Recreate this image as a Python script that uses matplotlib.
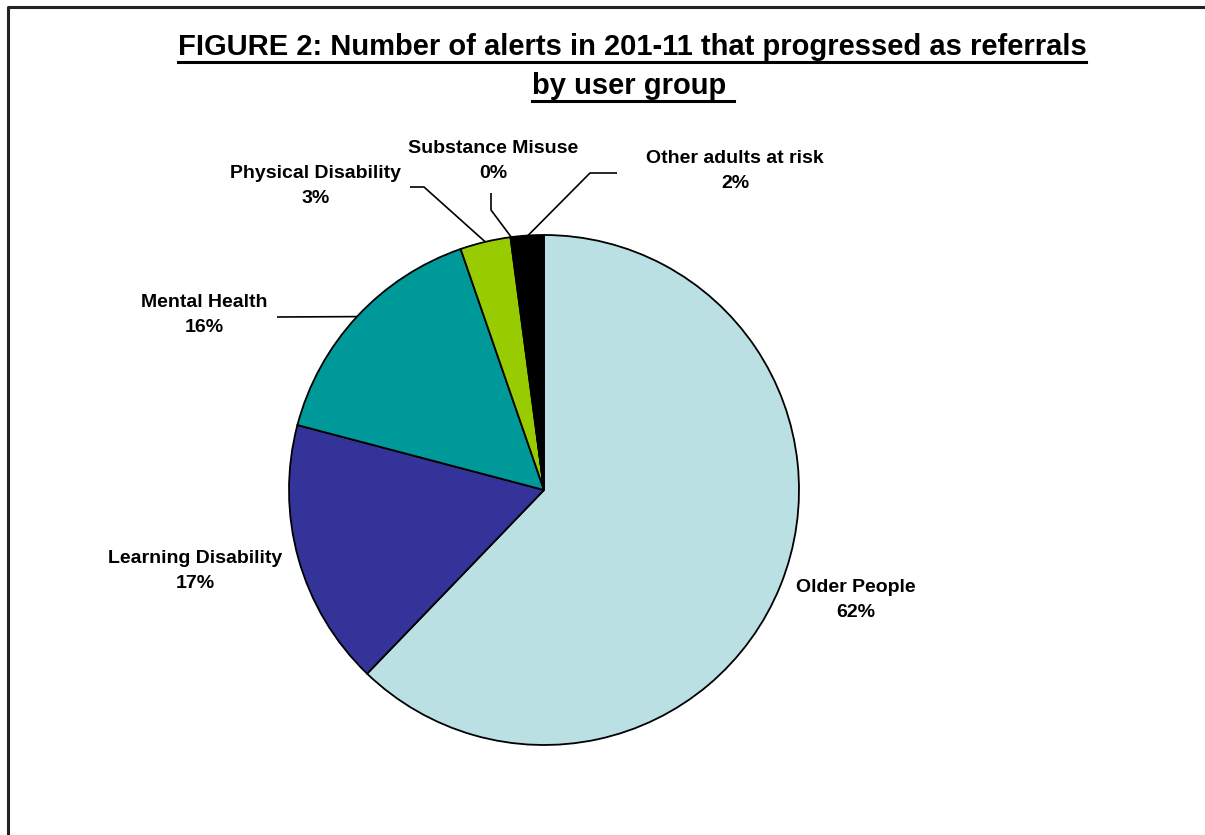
import matplotlib
matplotlib.use("Agg")
import matplotlib.pyplot as plt
import numpy as np

plt.rcParams['font.family'] = ['Liberation Sans', 'DejaVu Sans']

# data
groups = ["Older People", "Learning Disability", "Mental Health",
          "Physical Disability", "Substance Misuse", "Other adults at risk"]
shares = [62.2, 16.9, 15.6, 3.2, 0.1, 2.0]
pct_labels = ["62%", "17%", "16%", "3%", "0%", "2%"]
colors = ["#BBE0E3", "#333399", "#009999", "#99CC00", "#FFFFFF", "#000000"]

# label centres (pixels, y from top) and leader elbows
label_pos = [(856, 600), (195, 571), (204, 315), (316, 186), (493, 161), (735, 171)]
elbows = [None, None, [(277, 317)], [(410, 187), (424, 187)],
          [(491, 193), (491, 210)], [(617, 173), (590, 173)]]

W, H = 1205, 835
fig = plt.figure(figsize=(W / 100, H / 100), dpi=100)
ax = fig.add_axes([0, 0, 1, 1])

cx, cy, r = 544, H - 490, 255
wedges, _ = ax.pie(shares, colors=colors, startangle=90, counterclock=False,
                   center=(cx, cy), radius=r, frame=True,
                   wedgeprops=dict(edgecolor="black", linewidth=1.3))
ax.set_xlim(0, W)
ax.set_ylim(0, H)
ax.axis("off")

for w, name, pct, (lx, ly), elb in zip(wedges, groups, pct_labels, label_pos, elbows):
    ax.text(lx, H - ly, name + "\n" + pct, ha="center", va="center",
            fontsize=14, fontweight="bold", linespacing=1.6)
    if elb:
        mid = np.deg2rad((w.theta1 + w.theta2) / 2)
        ex, ey = cx + r * np.cos(mid), cy + r * np.sin(mid)
        xs = [p[0] for p in elb] + [ex]
        ys = [H - p[1] for p in elb] + [ey]
        ax.plot(xs, ys, color="black", linewidth=1.2, solid_capstyle="butt")

# title with underline
t1 = ax.text(632, H - 47, "FIGURE 2: Number of alerts in 201-11 that progressed as referrals",
             ha="center", va="center", fontsize=21, fontweight="bold")
t2 = ax.text(633, H - 86, "by user group ", ha="center", va="center",
             fontsize=21, fontweight="bold")
fig.canvas.draw()
ren = fig.canvas.get_renderer()
for t, uy in [(t1, 62), (t2, 101)]:
    bb = t.get_window_extent(ren)
    ax.plot([bb.x0, bb.x1], [H - uy, H - uy], color="black", linewidth=2.2)

# outer border
ax.plot([8, 8, W + 5], [-5, H - 7, H - 7], color="#222222", linewidth=2.2)

fig.savefig("out.png", dpi=100)
